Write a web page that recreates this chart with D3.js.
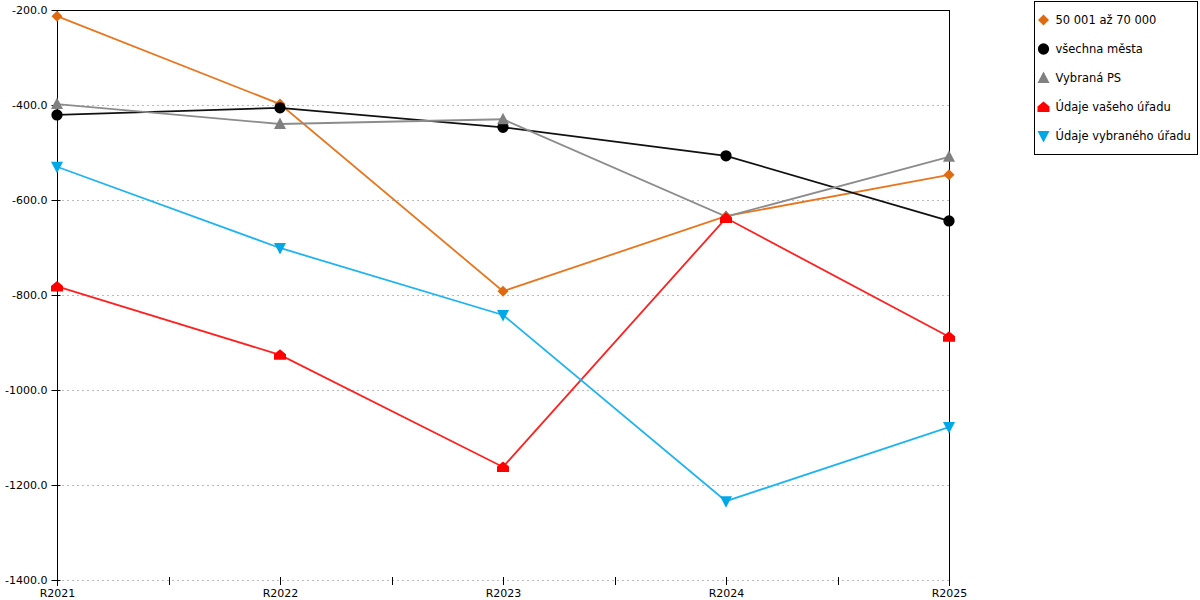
<!DOCTYPE html>
<html>
<head>
<meta charset="utf-8">
<script src="https://cdn.jsdelivr.net/npm/d3@7"></script>
<style>
  body { margin: 0; background: #fff; }
  text { font-family: "DejaVu Sans", Verdana, sans-serif; }
</style>
</head>
<body>
<div id="chart"></div>
<script>
const categories = ["R2021", "R2022", "R2023", "R2024", "R2025"];
const yTicks = [-200, -400, -600, -800, -1000, -1200, -1400];

const seriesNames = ["50 001 až 70 000", "všechna města", "Vybraná PS", "Údaje vašeho úřadu", "Údaje vybraného úřadu"];
const valuesOrange = [-213, -398, -792, -634, -547];
const valuesBlack = [-421, -406, -447, -507, -644];
const valuesGray = [-398, -440, -430, -635, -509];
const valuesRed = [-782, -926, -1162, -638, -888];
const valuesBlue = [-530, -701, -842, -1234, -1078];

const series = [
    { name: seriesNames[0], values: valuesOrange, line: "#e8761e", fill: "#e06a10", shape: "diamond" },
    { name: seriesNames[1], values: valuesBlack, line: "#111111", fill: "#000000", shape: "circle" },
    { name: seriesNames[2], values: valuesGray, line: "#8c8c8c", fill: "#808080", shape: "triangle" },
    { name: seriesNames[3], values: valuesRed, line: "#ff2020", fill: "#ff0000", shape: "house" },
    { name: seriesNames[4], values: valuesBlue, line: "#1fb4ef", fill: "#00a8e8", shape: "down" }
];

const width = 1200, height = 600;
const plotLeft = 57, plotRight = 949, plotTop = 10, plotBottom = 580;

const svg = d3.select("#chart").append("svg")
    .attr("width", width)
    .attr("height", height);

const x = d3.scalePoint().domain(categories).range([plotLeft, plotRight]);
const y = d3.scaleLinear().domain([-1400, -200]).range([plotBottom, plotTop]);

// grid
svg.append("g")
    .selectAll("line")
    .data(yTicks.filter(d => d !== -200))
    .join("line")
    .attr("x1", plotLeft)
    .attr("x2", plotRight)
    .attr("y1", d => Math.round(y(d)) + 0.5)
    .attr("y2", d => Math.round(y(d)) + 0.5)
    .attr("stroke", "#bbbbbb")
    .attr("stroke-dasharray", "2,3");

// frame top / right
svg.append("line")
    .attr("x1", plotLeft).attr("x2", plotRight + 0.5)
    .attr("y1", plotTop + 0.5).attr("y2", plotTop + 0.5)
    .attr("stroke", "#000");
svg.append("line")
    .attr("x1", plotRight + 0.5).attr("x2", plotRight + 0.5)
    .attr("y1", plotTop).attr("y2", plotBottom + 6)
    .attr("stroke", "#000");

// y axis
const yAxis = svg.append("g")
    .attr("transform", `translate(${plotLeft + 0.5},0)`)
    .call(d3.axisLeft(y).tickValues(yTicks).tickFormat(d => d.toFixed(1)).tickSize(6).tickSizeOuter(0));
yAxis.select(".domain").attr("d", `M0,${plotTop}V${plotBottom + 6}`);
yAxis.selectAll(".tick line").attr("x2", -6).attr("x1", 3);
yAxis.selectAll(".tick text")
    .attr("x", -10)
    .attr("font-size", 11)
    .attr("font-family", "DejaVu Sans, Verdana, sans-serif")
    .attr("fill", "#000");

// x axis
const mids = d3.pairs(categories).map(([a, b]) => (x(a) + x(b)) / 2);
const xAxis = svg.append("g")
    .attr("transform", `translate(0,${plotBottom})`)
    .call(d3.axisBottom(x).tickSize(0).tickSizeOuter(0));
xAxis.select(".domain").remove();
xAxis.selectAll(".tick text")
    .attr("y", 9)
    .attr("font-size", 11)
    .attr("font-family", "DejaVu Sans, Verdana, sans-serif")
    .attr("fill", "#000");
svg.append("g")
    .selectAll("line")
    .data(categories.slice(1, -1).map(c => x(c)).concat(mids))
    .join("line")
    .attr("x1", d => Math.round(d) + 0.5)
    .attr("x2", d => Math.round(d) + 0.5)
    .attr("y1", plotBottom - 3)
    .attr("y2", plotBottom + 5)
    .attr("stroke", "#000");

// markers
function markerPath(shape) {
    switch (shape) {
        case "diamond": return "M0,-5.5L5.5,0L0,5.5L-5.5,0Z";
        case "circle": return d3.symbol(d3.symbolCircle, 100)();
        case "triangle": return "M0,-6.5L6,5L-6,5Z";
        case "house": return "M0,-5.5L6,-0.5L6,5L-6,5L-6,-0.5Z";
        case "down": return "M-6,-5L6,-5L0,6.5Z";
    }
}

const line = d3.line()
    .x((d, i) => x(categories[i]))
    .y(d => y(d));

series.forEach(s => {
    svg.append("path")
        .datum(s.values)
        .attr("d", line)
        .attr("fill", "none")
        .attr("stroke", s.line)
        .attr("stroke-width", 1.8);
});

series.forEach(s => {
    svg.append("g")
        .selectAll("path")
        .data(s.values)
        .join("path")
        .attr("transform", (d, i) => `translate(${x(categories[i])},${y(d)})`)
        .attr("d", markerPath(s.shape))
        .attr("fill", s.fill);
});

// legend
const legend = svg.append("g").attr("transform", "translate(1034.5,1.5)");
legend.append("rect")
    .attr("width", 163)
    .attr("height", 153)
    .attr("fill", "#fff")
    .attr("stroke", "#000");

series.forEach((s, i) => {
    const g = legend.append("g").attr("transform", `translate(9,${18.5 + i * 29})`);
    g.append("path")
        .attr("d", markerPath(s.shape))
        .attr("fill", s.fill);
    g.append("text")
        .attr("x", 12)
        .attr("y", 4)
        .attr("font-size", 11.5)
        .text(s.name);
});
</script>
</body>
</html>
